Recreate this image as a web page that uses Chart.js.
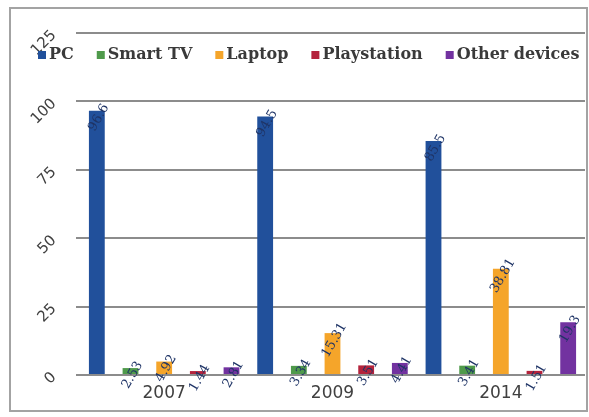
<!DOCTYPE html>
<html>
<head>
<meta charset="utf-8">
<script src="https://cdn.jsdelivr.net/npm/chart.js@4.4.0/dist/chart.umd.min.js"></script>
<style>
  body { margin: 0; background: #fff; }
  #frame { position: absolute; left: 9px; top: 7px; width: 579px; height: 405px; border: 2px solid #a3a3a3; box-sizing: border-box; }
  #wrap { position: absolute; left: 0; top: 0; width: 589px; height: 417px; }
</style>
</head>
<body>
<div id="frame"></div>
<div id="wrap"><canvas id="chart" width="589" height="417"></canvas></div>
<script>
const years = ['2007', '2009', '2014'];
const seriesNames = ['PC', 'Smart TV', 'Laptop', 'Playstation', 'Other devices'];
const pcValues = [96.6, 94.5, 85.5];
const smartTvValues = [2.53, 3.34, 3.41];
const laptopValues = [4.92, 15.31, 38.81];
const playstationValues = [1.44, 3.51, 1.51];
const otherValues = [2.81, 4.41, 19.3];
const yTicks = [0, 25, 50, 75, 100, 125];

const seriesColors = ['#21509b', '#4f9a4b', '#f5a52a', '#b4233c', '#7232a0'];
const allValues = [pcValues, smartTvValues, laptopValues, playstationValues, otherValues];

const valueLabels = {
    id: 'valueLabels',
    afterDatasetsDraw(chart) {
        const ctx = chart.ctx;
        ctx.save();
        ctx.font = '13px "DejaVu Serif"';
        ctx.fillStyle = '#1f3466';
        ctx.textAlign = 'center';
        ctx.textBaseline = 'middle';
        chart.data.datasets.forEach((ds, i) => {
            chart.getDatasetMeta(i).data.forEach((bar, j) => {
                ctx.save();
                ctx.translate(bar.x + 2, bar.y + 7);
                ctx.rotate(-Math.PI / 3);
                ctx.fillText(String(ds.data[j]), 0, 0);
                ctx.restore();
            });
        });
        ctx.restore();
    }
};

const topLegend = {
    id: 'topLegend',
    afterDraw(chart) {
        const ctx = chart.ctx;
        ctx.save();
        ctx.font = 'bold 16px "DejaVu Serif"';
        ctx.textBaseline = 'middle';
        let x = 38;
        const y = 55;
        chart.data.datasets.forEach(ds => {
            ctx.fillStyle = ds.backgroundColor;
            ctx.fillRect(x, y - 4, 8, 8);
            x += 11;
            ctx.fillStyle = '#3a3a3a';
            ctx.fillText(ds.label, x, y);
            x += ctx.measureText(ds.label).width + 23;
        });
        ctx.restore();
    }
};

new Chart(document.getElementById('chart'), {
    type: 'bar',
    data: {
        labels: years,
        datasets: seriesNames.map((name, i) => ({
            label: name,
            data: allValues[i],
            backgroundColor: seriesColors[i],
            barPercentage: 0.47,
            categoryPercentage: 1.0
        }))
    },
    options: {
        responsive: false,
        animation: false,
        devicePixelRatio: 1,
        layout: { padding: { left: 18, top: 33, right: 4, bottom: 10 } },
        plugins: {
            legend: { display: false },
            tooltip: { enabled: false }
        },
        scales: {
            x: {
                grid: { display: false },
                border: { display: false },
                ticks: { color: '#404040', font: { family: 'DejaVu Sans', size: 17 }, padding: 0 },
                afterFit(scale) { scale.height = 32; }
            },
            y: {
                min: 0,
                max: 125,
                afterBuildTicks(scale) { scale.ticks = yTicks.map(v => ({ value: v })); },
                grid: { color: '#8c8c8c', lineWidth: 2, tickLength: 4 },
                border: { display: false },
                ticks: { color: '#404040', font: { family: 'DejaVu Sans', size: 15 }, minRotation: 45, maxRotation: 45, padding: 22 },
                afterFit(scale) { scale.width = 62; }
            }
        }
    },
    plugins: [valueLabels, topLegend]
});
</script>
</body>
</html>
